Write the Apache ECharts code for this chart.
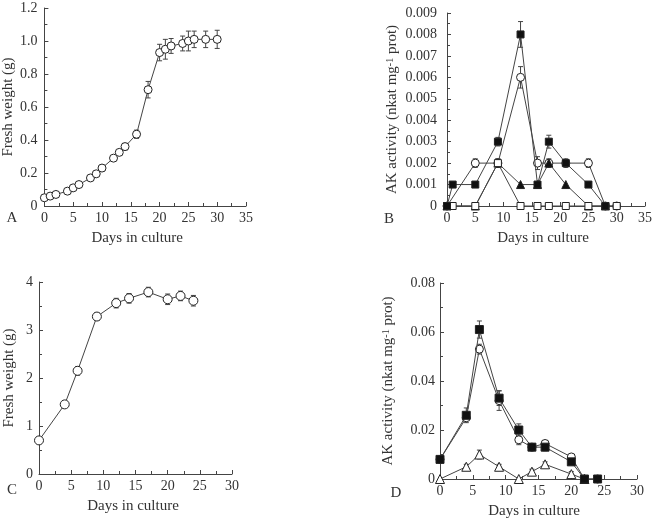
<!DOCTYPE html>
<html>
<head>
<meta charset="utf-8">
<script src="https://cdn.jsdelivr.net/npm/echarts@6/dist/echarts.min.js"></script>
<style>
  html, body { margin: 0; padding: 0; background: #fff; }
  #chart { width: 657px; height: 525px; }
</style>
</head>
<body>
<div id="chart"></div>
<script>
// Panel A: fresh weight
const daysA = [0, 1, 2, 4, 5, 6, 8, 9, 10, 12, 13, 14, 16, 18, 20, 21, 22, 24, 25, 26, 28, 30]
const weightA = [0.05, 0.06, 0.07, 0.09, 0.11, 0.13, 0.17, 0.195, 0.23, 0.29, 0.325, 0.36, 0.435, 0.705, 0.93, 0.95, 0.97, 0.985, 1.0, 1.01, 1.01, 1.01]
const errA = [0.01, 0.01, 0.01, 0.01, 0.01, 0.01, 0.01, 0.01, 0.015, 0.015, 0.015, 0.02, 0.025, 0.05, 0.05, 0.06, 0.045, 0.045, 0.06, 0.05, 0.05, 0.055]

// Panel B: AK activity
const daysBsq = [0, 1, 5, 9, 13, 16, 18, 21, 25, 28]
const sqB = [0, 0.001, 0.001, 0.003, 0.008, 0.001, 0.003, 0.002, 0.001, 0]
const sqErrB = [0, 0, 0, 0.0002, 0.0006, 0, 0.0003, 0.0002, 0, 0]
const daysBci = [0, 5, 9, 13, 16, 18, 21, 25, 28, 30]
const ciB = [0, 0.002, 0.002, 0.006, 0.002, 0.002, 0.002, 0.002, 0, 0]
const ciErrB = [0, 0.0002, 0.0002, 0.0005, 0.0003, 0, 0, 0.0002, 0, 0]
const daysBtr = [0, 5, 9, 13, 16, 18, 21, 25, 28]
const trB = [0, 0, 0.002, 0.001, 0.001, 0.002, 0.001, 0, 0]
const trErrB = [0, 0, 0.0002, 0, 0, 0.0002, 0, 0, 0]
const daysBos = [0, 1, 5, 9, 13, 16, 18, 21, 25, 28, 30]
const osB = [0, 0, 0, 0.002, 0, 0, 0, 0, 0, 0, 0]

// Panel C: fresh weight
const daysC = [0, 4, 6, 9, 12, 14, 17, 20, 22, 24]
const weightC = [0.7, 1.45, 2.15, 3.28, 3.56, 3.66, 3.79, 3.64, 3.71, 3.61]
const errC = [0.03, 0.04, 0.09, 0.08, 0.1, 0.1, 0.1, 0.11, 0.1, 0.11]

// Panel D: AK activity
const daysD = [0, 4, 6, 9, 12, 14, 16, 20, 22, 24]
const sqD = [0.008, 0.026, 0.061, 0.033, 0.02, 0.013, 0.013, 0.007, 0, 0]
const sqErrD = [0, 0.003, 0.0035, 0.003, 0.0025, 0.0015, 0.0015, 0, 0, 0]
const ciD = [0.008, 0.025, 0.053, 0.032, 0.016, 0.013, 0.0145, 0.009, 0, 0]
const ciErrD = [0, 0.001, 0.002, 0.004, 0.002, 0.001, 0.001, 0, 0, 0]
const daysDtr = [0, 4, 6, 9, 12, 14, 16, 20, 22]
const trD = [0, 0.005, 0.01, 0.005, 0, 0.003, 0.006, 0.002, 0]
const trErrD = [0, 0.001, 0.0018, 0.001, 0, 0.001, 0.001, 0.001, 0]

const FONT = 'Liberation Serif'
const INK = '#333'
const LINE = '#444'

function pairs(xs, ys) {
  return xs.map((x, i) => [x, ys[i]])
}

function errData(xs, ys, es) {
  return xs.map((x, i) => [x, ys[i] - es[i], ys[i] + es[i], es[i]]).filter((d) => d[3] > 0)
}

function lineSeries(idx, xs, ys, symbol, size, filled, z) {
  return {
    type: 'line',
    xAxisIndex: idx,
    yAxisIndex: idx,
    data: pairs(xs, ys),
    symbol,
    symbolSize: size,
    showAllSymbol: true,
    lineStyle: { color: LINE, width: 1 },
    itemStyle: { color: filled ? '#111' : '#fff', borderColor: '#222', borderWidth: 1 },
    z,
    silent: true,
    animation: false,
  }
}

function errSeries(idx, xs, ys, es) {
  return {
    type: 'custom',
    xAxisIndex: idx,
    yAxisIndex: idx,
    data: errData(xs, ys, es),
    z: 1,
    silent: true,
    animation: false,
    renderItem: (params, api) => {
      const lo = api.coord([api.value(0), api.value(1)])
      const hi = api.coord([api.value(0), api.value(2)])
      const w = 2.5
      const st = { stroke: '#444', lineWidth: 1 }
      return {
        type: 'group',
        children: [
          { type: 'line', shape: { x1: lo[0], y1: lo[1], x2: hi[0], y2: hi[1] }, style: st },
          { type: 'line', shape: { x1: hi[0] - w, y1: hi[1], x2: hi[0] + w, y2: hi[1] }, style: st },
          { type: 'line', shape: { x1: lo[0] - w, y1: lo[1], x2: lo[0] + w, y2: lo[1] }, style: st },
        ],
      }
    },
  }
}

const labelStyle = { fontFamily: FONT, fontSize: 14, color: INK }
const nameStyle = { fontFamily: FONT, fontSize: 15, color: INK }

function xAxis(idx, max, pad) {
  return {
    type: 'value',
    gridIndex: idx,
    min: 0,
    max,
    interval: 5,
    name: 'Days in culture',
    nameLocation: 'middle',
    nameGap: 25,
    nameTextStyle: Object.assign({ padding: pad }, nameStyle),
    axisLine: { lineStyle: { color: LINE, width: 1 } },
    axisTick: { inside: true, length: 4, lineStyle: { color: LINE } },
    minorTick: { show: true, splitNumber: 2, length: 3, lineStyle: { color: LINE } },
    splitLine: { show: false },
    axisLabel: Object.assign({ margin: 5 }, labelStyle),
  }
}

function yAxis(idx, max, interval, digits, name, gap, margin) {
  return {
    type: 'value',
    gridIndex: idx,
    min: 0,
    max,
    interval,
    name,
    nameLocation: 'middle',
    nameGap: gap,
    nameTextStyle: Object.assign({
      rich: {
        n: { fontFamily: FONT, fontSize: 15, color: INK },
        s: { fontFamily: FONT, fontSize: 10, color: INK, verticalAlign: 'top' },
      },
    }, nameStyle),
    axisLine: { show: true, lineStyle: { color: LINE, width: 1 } },
    axisTick: { show: true, inside: true, length: 4, lineStyle: { color: LINE } },
    minorTick: { show: true, splitNumber: 2, length: 3, lineStyle: { color: LINE } },
    splitLine: { show: false },
    axisLabel: Object.assign({
      margin,
      formatter: (v) => (Math.abs(v) < 1e-12 ? '0' : v.toFixed(digits)),
    }, labelStyle),
  }
}

const akName = '{n|AK activity (nkat mg}{s|-1}{n| prot)}'

const option = {
  backgroundColor: '#fff',
  animation: false,
  grid: [
    { left: 44, top: 8, width: 202, height: 198 },
    { left: 447, top: 13, width: 198, height: 193 },
    { left: 39, top: 282, width: 193, height: 192 },
    { left: 440, top: 283, width: 197, height: 196 },
  ],
  xAxis: [
    xAxis(0, 35, [0, 16, 0, 0]),
    xAxis(1, 35, [0, 6, 0, 0]),
    xAxis(2, 30, [0, 5, 0, 0]),
    xAxis(3, 30, [0, 9, 0, 0]),
  ],
  yAxis: [
    yAxis(0, 1.2, 0.2, 1, 'Fresh weight (g)', 27, 7),
    yAxis(1, 0.009, 0.001, 3, akName, 47, 10),
    yAxis(2, 4, 1, 0, 'Fresh weight (g)', 22, 6),
    yAxis(3, 0.08, 0.02, 2, akName, 44, 5),
  ],
  graphic: [
    { type: 'text', x: 12, y: 218, style: { text: 'A', font: '15px "Liberation Serif"', fill: INK, align: 'center', verticalAlign: 'middle' } },
    { type: 'text', x: 389, y: 219, style: { text: 'B', font: '15px "Liberation Serif"', fill: INK, align: 'center', verticalAlign: 'middle' } },
    { type: 'text', x: 12, y: 490, style: { text: 'C', font: '15px "Liberation Serif"', fill: INK, align: 'center', verticalAlign: 'middle' } },
    { type: 'text', x: 396, y: 493, style: { text: 'D', font: '15px "Liberation Serif"', fill: INK, align: 'center', verticalAlign: 'middle' } },
  ],
  series: [
    // A
    errSeries(0, daysA, weightA, errA),
    lineSeries(0, daysA, weightA, 'circle', 8, false, 3),
    // B
    errSeries(1, daysBsq, sqB, sqErrB),
    errSeries(1, daysBci, ciB, ciErrB),
    errSeries(1, daysBtr, trB, trErrB),
    lineSeries(1, daysBci, ciB, 'circle', 8, false, 3),
    lineSeries(1, daysBtr, trB, 'triangle', 8, true, 4),
    lineSeries(1, daysBos, osB, 'rect', 7, false, 5),
    lineSeries(1, daysBsq, sqB, 'rect', 7, true, 6),
    // C
    errSeries(2, daysC, weightC, errC),
    lineSeries(2, daysC, weightC, 'circle', 9, false, 3),
    // D
    errSeries(3, daysD, sqD, sqErrD),
    errSeries(3, daysD, ciD, ciErrD),
    errSeries(3, daysDtr, trD, trErrD),
    lineSeries(3, daysDtr, trD, 'triangle', 9, false, 3),
    lineSeries(3, daysD, ciD, 'circle', 8, false, 4),
    lineSeries(3, daysD, sqD, 'rect', 8, true, 5),
  ],
}

const chart = echarts.init(document.getElementById('chart'))
chart.setOption(option)
window.addEventListener('resize', () => chart.resize())
</script>
</body>
</html>
